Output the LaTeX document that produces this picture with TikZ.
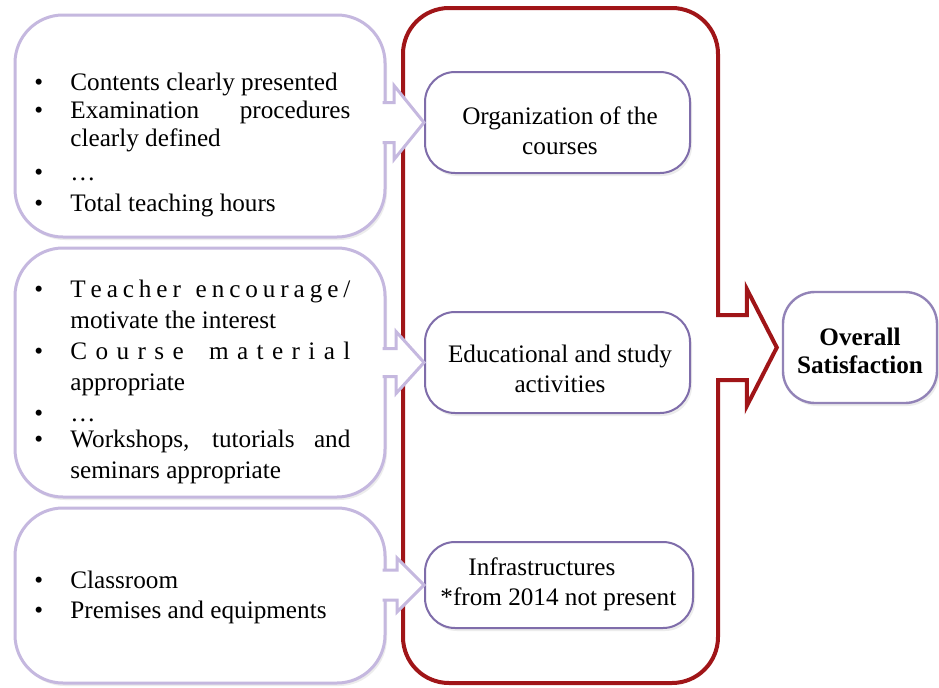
\documentclass[tikz,border=0pt]{standalone}
\usepackage{fontspec}
\setmainfont{Liberation Serif}
\usepackage{tikz}
\usetikzlibrary{positioning,calc,shadows}
\definecolor{lavender}{HTML}{C5B8DF}
\definecolor{violetline}{HTML}{7F6DAA}
\definecolor{darkred}{HTML}{A01518}
\newlength{\itemcol}
\setlength{\itemcol}{140pt}
\newcommand{\itm}[1]{\makebox[18pt][l]{\textbullet}#1}
\newcommand{\cont}[1]{\hspace*{18pt}#1}
\newcommand{\spread}[1]{\makebox[\itemcol][s]{#1}}
% block arrow: style, source node, tip, shaft half, head half, head length
\newcommand{\fatarrow}[6][]{%
  \path[#1] ($(#2.east |- #3)+(-4,-#4)$) -- ($(#3)+(-#6,-#4)$) -- ($(#3)+(-#6,-#5)$) -- (#3)
    -- ($(#3)+(-#6,#5)$) -- ($(#3)+(-#6,#4)$) -- ($(#2.east |- #3)+(-4,#4)$);}
\tikzset{
  listbox/.style={draw=lavender,line width=1.5pt,fill=white,rounded corners=24pt,
    minimum width=185pt,inner sep=0pt,
    drop shadow={opacity=0.15,shadow xshift=1pt,shadow yshift=-1.5pt}},
  criterion/.style={draw=violetline,line width=1pt,fill=white,rounded corners=15pt,
    minimum width=132.5pt,minimum height=50.5pt,inner sep=0pt,
    drop shadow={opacity=0.15,shadow xshift=1pt,shadow yshift=-1.5pt}},
  redframe/.style={draw=darkred,line width=2pt,rounded corners=23pt,
    minimum width=157.5pt,minimum height=337.5pt,inner sep=0pt},
  listtext/.style={anchor=north west,inner sep=0pt,align=left},
  boxtext/.style={inner sep=0pt,align=center},
  lightarrow/.style={fill=white,draw=lavender,line width=1.5pt},
  bigarrow/.style={fill=white,draw=darkred,line width=2pt}
}

\begin{document}
\begin{tikzpicture}[x=0.5pt,y=-0.5pt,font=\fontsize{12.6}{15}\selectfont]
  \fill[white] (0,0) rectangle (939,687);
  \useasboundingbox (0,0) rectangle (939,687);

  % frame and the three criteria
  \node[redframe] (frame) at (560.5,345.5) {};
  \node[criterion] (org) at (557.5,122.5) {};
  \node[criterion] (edu) at (557.5,362.5) {};
  \node[criterion,minimum width=134pt,minimum height=43pt] (infra) at (559,585) {};

  % item lists
  \node[listbox,minimum height=111pt] (boxA) at (200,126) {};
  \node[listbox,minimum height=124.5pt] (boxB) at (200,372.5) {};
  \node[listbox,minimum height=87.5pt] (boxC) at (200,595.5) {};

  \fatarrow[lightarrow]{boxA}{org.west}{20}{37}{30}
  \fatarrow[lightarrow]{boxB}{edu.west}{14}{31}{28}
  \fatarrow[lightarrow]{boxC}{infra.west}{15}{27}{27}

  % overall
  \node[criterion,draw=violetline!85,line width=1.2pt,rounded corners=16pt,
        minimum width=77pt,minimum height=55.5pt] (overall) at (860,347.5) {};
  \coordinate (tipR) at ($(overall.west)+(-5,0)$);
  \fatarrow[bigarrow]{frame}{tipR}{32.5}{58.5}{30}

  % texts
  \node[listtext,font=\fontsize{12.6}{14}\selectfont] (listA) at (34,73) {%
    \itm{Contents clearly presented}\\
    \itm{\spread{Examination procedures}}\\
    \cont{clearly defined}\\[3pt]
    \itm{\dots}\\[1.5pt]
    \itm{Total teaching hours}};
  \node[listtext,font=\fontsize{12.6}{15.5}\selectfont] (listB) at (34,280) {%
    \itm{\spread{T\hfill e\hfill a\hfill c\hfill h\hfill e\hfill r\hfill\hfill\hfill e\hfill n\hfill c\hfill o\hfill u\hfill r\hfill a\hfill g\hfill e\hfill /}}\\
    \cont{motivate the interest}\\
    \itm{\spread{C\hfill o\hfill u\hfill r\hfill s\hfill e\hfill\hfill\hfill m\hfill a\hfill t\hfill e\hfill r\hfill i\hfill a\hfill l}}\\
    \cont{appropriate}\\
    \itm{\dots}\\[-2.5pt]
    \itm{\spread{Workshops, tutorials and}}\\
    \cont{seminars appropriate}};
  \node[listtext] (listC) at (34,571) {%
    \itm{Classroom}\\
    \itm{Premises and equipments}};

  \node[boxtext] (orgtxt) at (560,130.5) {Organization of the\\courses};
  \node[boxtext] (edutxt) at (560,369) {Educational and study\\activities};
  \node[boxtext,align=left,anchor=west] (infratxt) at (440,584) {\hspace*{14pt}Infrastructures\\*from 2014 not present};
  \node[boxtext,font=\fontsize{12.6}{14}\selectfont\bfseries] (overalltxt) at (860,351) {Overall\\Satisfaction};
\end{tikzpicture}
\end{document}
